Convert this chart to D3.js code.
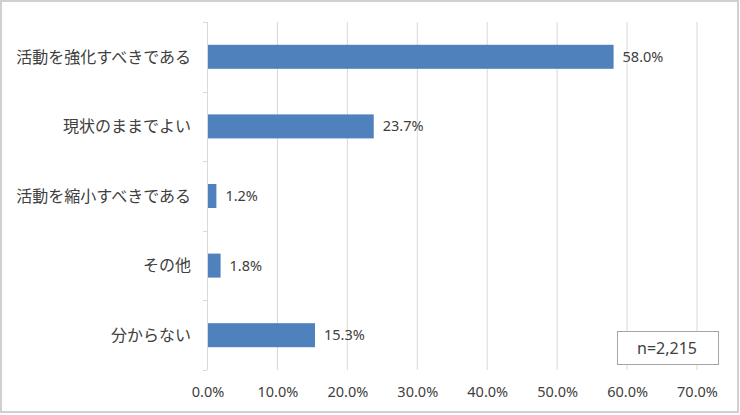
<!DOCTYPE html>
<html><head><meta charset="utf-8">
<script src="https://cdn.jsdelivr.net/npm/d3@7"></script>
<style>body{margin:0;background:#fff}svg{display:block}</style>
</head><body>
<script>
const categories = ["活動を強化すべきである","現状のままでよい","活動を縮小すべきである","その他","分からない"];
const values = [58.0, 23.7, 1.2, 1.8, 15.3];
const xTicks = [0,10,20,30,40,50,60,70];
const nLabel = "n=2,215";

(function(){
const W = 740, H = 415;
const font = "'Noto Sans CJK JP', 'Noto Sans', sans-serif";
const lfont = "'Noto Sans', 'Noto Sans CJK JP', sans-serif";
const svg = d3.select("body").append("svg").attr("width", W).attr("height", H);

svg.append("rect").attr("x",1).attr("y",1).attr("width",W-3).attr("height",H-4)
  .attr("fill","#fff").attr("stroke","#d0d0d0").attr("stroke-width",2);

const mL = 207, mR = 696.5, mT = 22, mB = 370;
const x = d3.scaleLinear().domain([0,70]).range([mL,mR]);
const y = d3.scaleBand().domain(categories).range([mT,mB]).paddingInner(0.655).paddingOuter(0.3275);
const yb = d3.scaleBand().domain(categories).range([mT,mB]);

svg.append("g").selectAll("line").data(xTicks.slice(1)).join("line")
  .attr("x1",d=>x(d)+0.5).attr("x2",d=>x(d)+0.5).attr("y1",mT).attr("y2",mB)
  .attr("stroke","#d9d9d9").attr("stroke-width",1);

svg.append("line").attr("x1",mL+0.5).attr("x2",mL+0.5).attr("y1",mT).attr("y2",mB)
  .attr("stroke","#d9d9d9");
const bounds = categories.map(c=>yb(c)).concat([mB]);
svg.append("g").selectAll("line").data(bounds).join("line")
  .attr("x1",mL-4).attr("x2",mL).attr("y1",d=>Math.round(d)+0.5).attr("y2",d=>Math.round(d)+0.5)
  .attr("stroke","#d9d9d9");

svg.append("g").selectAll("rect").data(values).join("rect")
  .attr("x",x(0)+1).attr("y",(d,i)=>y(categories[i]))
  .attr("width",d=>x(d)-x(0)).attr("height",y.bandwidth())
  .attr("fill","#4f81bd");

svg.append("g").selectAll("text").data(values).join("text")
  .attr("x",d=>x(d)+10).attr("y",(d,i)=>y(categories[i])+y.bandwidth()/2)
  .attr("dy","0.35em").attr("font-family",lfont).attr("font-size",14.5)
  .attr("fill","#404040").text(d=>d.toFixed(1)+"%");

svg.append("g").selectAll("text").data(categories).join("text")
  .attr("x",191).attr("y",d=>yb(d)+yb.bandwidth()/2)
  .attr("dy","0.36em").attr("text-anchor","end").attr("font-family",font).attr("font-size",16)
  .attr("fill","#404040").text(d=>d);

svg.append("g").selectAll("text").data(xTicks).join("text")
  .attr("x",d=>x(d)+1).attr("y",392).attr("dy","0.35em").attr("text-anchor","middle")
  .attr("font-family",lfont).attr("font-size",14.5).attr("fill","#404040").text(d=>d.toFixed(1)+"%");

svg.append("rect").attr("x",617.5).attr("y",331.5).attr("width",101).attr("height",33)
  .attr("fill","#fff").attr("stroke","#a6a6a6");
svg.append("text").attr("x",667).attr("y",348).attr("dy","0.35em").attr("text-anchor","middle")
  .attr("font-family",lfont).attr("font-size",16).attr("fill","#404040").text(nLabel);
})();
</script>
</body></html>
